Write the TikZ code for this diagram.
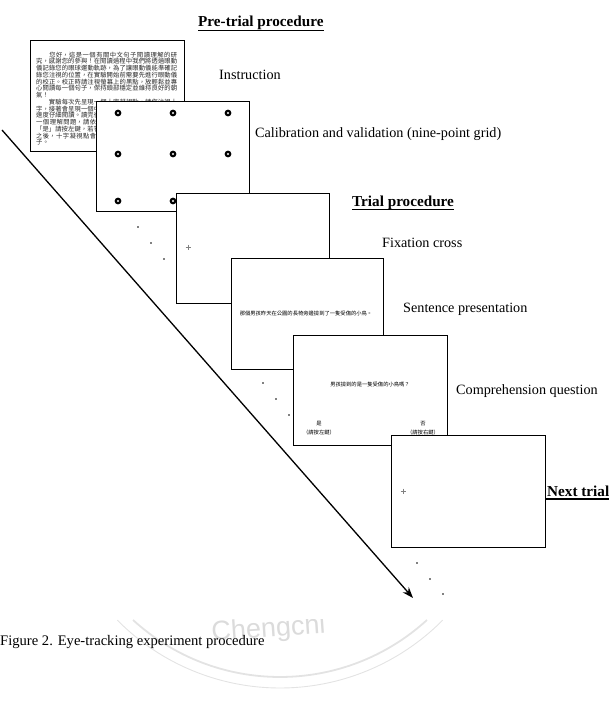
\documentclass[tikz,border=0pt]{standalone}
\usepackage{fontspec}
\setmainfont{Liberation Serif}
\newfontfamily\cjk{Noto Sans CJK TC}
\newfontfamily\wmsans{Liberation Sans}
\usetikzlibrary{arrows.meta, calc}
\tikzset{
    screen/.style={draw, fill=white, line width=0.9pt},
    stepname/.style={inner sep=0pt, anchor=base west, font=\fontsize{14.2}{17}\selectfont},
    heading/.style={inner sep=0pt, anchor=base west, font=\fontsize{15.2}{18}\selectfont\bfseries},
    headline/.style={line width=1.5pt},
    trail/.style={fill=black},
    tinycjk/.style={inner sep=0pt, font=\cjk\fontsize{5.3}{6}\selectfont},
    fixcross/.style={gray, line width=0.4pt},
}

\begin{document}
\begin{tikzpicture}[x=1pt, y=-1pt]
\useasboundingbox (0,0) rectangle (613,714);
% Watermark
\begin{scope}
\clip (0,619) rectangle (613,714);
\draw[gray!22, line width=1.8pt] (280,459) ++(132.4:218) arc[start angle=132.4, end angle=47.6, radius=218];
\draw[gray!22, line width=0.9pt] (280,459) ++(135.3:229) arc[start angle=135.3, end angle=44.7, radius=229];
\node[anchor=base west, rotate=4, inner sep=0pt, text=gray!28, font=\wmsans\fontsize{27}{30}\selectfont] (wmark) at (212,641) {Chengchi};
\end{scope}
% Screen 1: instruction
\draw[screen] (30,40) rectangle (184,151);
\begin{scope}
\clip (31,41) rectangle (183,150);
\node[anchor=north west, inner sep=0pt, text width=141pt, align=justify, text=black!85, font=\cjk\fontsize{6.3}{6.75}\selectfont] (instrtext) at (36,51.5) {\XeTeXlinebreaklocale "zh"\XeTeXlinebreakskip=0pt plus 1pt
　　您好，這是一個有關中文句子閱讀理解的研究，感謝您的參與！在閱讀過程中我們將透過眼動儀記錄您的眼球運動軌跡，為了讓眼動儀能準確記錄您注視的位置，在實驗開始前需要先進行眼動儀的校正。校正時請注視螢幕上的黑點，放輕鬆並專心閱讀每一個句子，保持頭部穩定並維持良好的朝氣！\par
　　實驗每次先呈現一個十字凝視點，請您注視十字，接著會呈現一個中文句子，請您以平常閱讀的速度仔細閱讀。讀完後請按下按鍵，畫面上將出現一個理解問題，請依照句子內容回答。若答案為「是」請按左鍵，若答案為「否」請按右鍵。回答之後，十字凝視點會再次出現，並開始下一個句子。};
\end{scope}
% Screen 2: calibration, nine-point grid
\draw[screen] (96,101) rectangle (249,211);
\foreach \px in {118,173,228} {
    \foreach \py in {113,154,201} {
        \fill (\px,\py) circle (3.4pt);
        \fill[white] (\px,\py) circle (1.1pt);
    }
}
\foreach \dx/\dy in {138/227, 151/243, 164/259} {
    \fill[trail] (\dx,\dy) circle (0.9pt);
}
% Screen 3: fixation cross
\draw[screen] (176,193) rectangle (329,303);
\draw[fixcross] (185.5,247) -- (190.5,247) (188,244.5) -- (188,249.5);
% Screen 4: sentence
\draw[screen] (231,258) rectangle (383,369);
\node[tinycjk] (sentence) at (306,313) {那個男孩昨天在公園的長椅旁邊撿到了一隻受傷的小鳥。};
\foreach \dx/\dy in {263/383, 276/399, 289/415} {
    \fill[trail] (\dx,\dy) circle (0.9pt);
}
% Screen 5: comprehension question
\draw[screen] (293,335) rectangle (447,445);
\node[tinycjk] (question) at (370,384) {男孩撿到的是一隻受傷的小鳥嗎？};
\node[tinycjk] (yes) at (319,424) {是};
\node[tinycjk] (yeskey) at (319,432) {（請按左鍵）};
\node[tinycjk] (no) at (423,424) {否};
\node[tinycjk] (nokey) at (423,432) {（請按右鍵）};
% Screen 6: next trial
\draw[screen] (391,435) rectangle (545,547);
\draw[fixcross] (400.5,491) -- (405.5,491) (403,488.5) -- (403,493.5);
\foreach \dx/\dy in {417/563, 430/579, 443/594} {
    \fill[trail] (\dx,\dy) circle (0.9pt);
}
% Time arrow
\coordinate (arrowstart) at (2,130);
\coordinate (arrowend) at (413,598);
\draw[line width=1.3pt, -{Stealth[length=11pt, width=8pt]}] (arrowstart) -- (arrowend);
% Labels
\node[heading] (pretrial) at (198,27) {Pre-trial procedure};
\draw[headline] ($(pretrial.base west)+(0,3.5)$) -- ($(pretrial.base east)+(0,3.5)$);
\node[stepname] (instrlabel) at (219,80) {Instruction};
\node[stepname] (callabel) at (255,138) {Calibration and validation (nine-point grid)};
\node[heading] (trial) at (352,206) {Trial procedure};
\draw[headline] ($(trial.base west)+(0,3.5)$) -- ($(trial.base east)+(0,3.5)$);
\node[stepname] (fixlabel) at (382,247) {Fixation cross};
\node[stepname] (sentlabel) at (403,312) {Sentence presentation};
\node[stepname] (queslabel) at (456,394) {Comprehension question};
\node[heading] (nexttrial) at (547,496) {Next trial};
\draw[headline] ($(nexttrial.base west)+(-2,3)$) -- ($(nexttrial.base east)+(0,3)$);
\node[stepname, font=\fontsize{14.6}{17}\selectfont] (caption) at (0,645) {Figure 2. Eye-tracking experiment procedure};
\end{tikzpicture}
\end{document}
